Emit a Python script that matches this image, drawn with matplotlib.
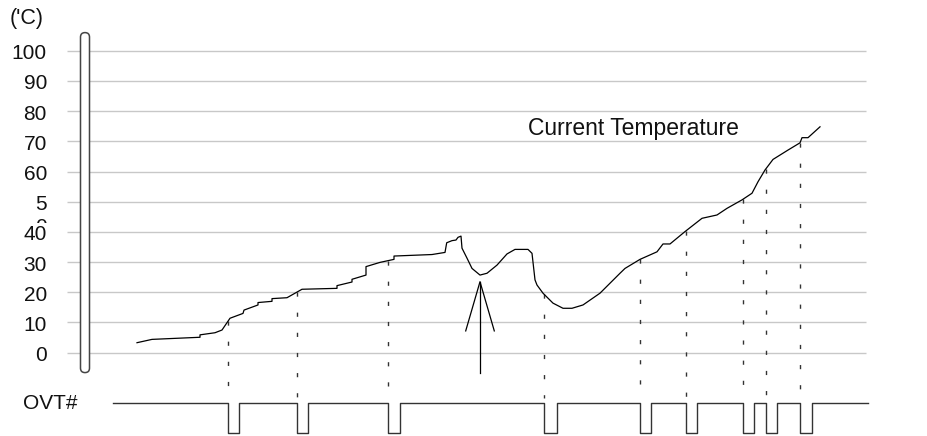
import numpy as np
import matplotlib.pyplot as plt
from matplotlib.patches import FancyBboxPatch, Rectangle

plt.rcParams['font.family'] = ['Liberation Sans', 'DejaVu Sans']

# temperature trace (time in arbitrary units, temperature in 'C)
t = [137, 152, 200, 200, 215, 222, 230, 243, 244, 258, 258, 272, 272, 287, 302,
     337, 337, 352, 352, 366, 366, 380, 394, 394, 432, 445, 446.7, 452, 456, 458,
     461, 462, 467, 472, 480, 487, 497, 507, 515, 528, 532, 535, 537, 543, 553,
     563, 572, 583, 600, 620, 625, 640, 657, 663, 670, 685, 702, 717, 727, 742,
     752, 758, 765, 773, 788, 800, 802, 808, 820]
temp = [3.3, 4.4, 5.1, 5.9, 6.6, 7.5, 11.4, 13.0, 14.1, 15.8, 16.6, 17.0, 17.9, 18.2, 21.0,
        21.3, 22.2, 23.4, 24.3, 25.7, 28.5, 29.9, 30.9, 32.0, 32.5, 33.2, 36.4, 37.1, 37.3, 38.2,
        38.6, 34.6, 31.3, 27.9, 25.7, 26.3, 29.0, 32.7, 34.2, 34.2, 32.9, 24.1, 22.4, 19.7, 16.4,
        14.7, 14.7, 15.8, 19.7, 26.3, 27.9, 30.9, 33.4, 36.0, 36.0, 40.1, 44.5, 45.6, 47.8, 50.6,
        52.8, 56.6, 60.5, 64.0, 67.1, 69.5, 71.2, 71.2, 74.8]

# OVT# low pulses: (falling edge, rising edge)
pulse_start = [228, 297, 388, 544, 640, 686, 743, 766, 800]
pulse_end = [239, 308, 400, 557, 651, 697, 754, 777, 812]
sig_start, sig_end = 113, 868

ticks = [0, 10, 20, 30, 40, 60, 70, 80, 90, 100]

fig = plt.figure(figsize=(9.27, 4.36), dpi=100)
ax = fig.add_axes([0, 0, 1, 1])
ax.set_xlim(0, 927)
ax.set_ylim(-27.6, 116.8)
ax.axis('off')

# grid
ax.hlines(np.arange(0, 101, 10), 67, 866, color='#c8c8c8', lw=1, zorder=1)

# thermometer bar
pill = FancyBboxPatch((80.5, -6.6), 9, 112.6, boxstyle='round,pad=0,rounding_size=4.5',
                      mutation_aspect=1 / 3.02, fc='white', ec='#444444', lw=1.1, zorder=3)
ax.add_patch(pill)

# tick labels
for v in ticks:
    ax.text(47, v - 1.0, str(v), ha='right', va='center', fontsize=15, zorder=5,
            color='#111111')
# the "50" label is broken in the original: only "5" and a sliver of the "0" show
ax.text(47, 49.0, '5', ha='right', va='center', fontsize=15, color='#111111', zorder=4)
ax.text(47, 41.4, '0', ha='right', va='center', fontsize=15, color='#111111', zorder=4)
ax.add_patch(Rectangle((20, 34), 30, 9.0, fc='white', ec='none', zorder=4.5))
ax.text(10, 110.8, "('C)", ha='left', va='center', fontsize=15.5, color='#111111')

# curve
ax.plot(t, temp, color='black', lw=0.9, zorder=6)
ax.text(528, 74.4, 'Current Temperature', ha='left', va='center', fontsize=16.5,
        color='#111111')

# dashed markers from curve down to OVT#
tops = np.interp(pulse_start, t, temp)
for x, top in zip(pulse_start, tops):
    ax.plot([x, x], [top, -15], color='#333333', lw=1, dashes=(3, 11.5), zorder=2)

# arrow pointing at the dip
tip_x, tip_y = 480, 23.5
ax.plot([tip_x, tip_x], [tip_y, -6.7], color='black', lw=0.9)
ax.plot([465.7, tip_x, 494.3], [7.2, tip_y, 7.2], color='black', lw=0.9)

# OVT# signal
ax2 = fig.add_axes([0, 0, 1, 1], sharex=ax)
ax2.set_ylim(-0.1, 14.43)
ax2.axis('off')
sx = [sig_start]
sy = [1]
for a, b in zip(pulse_start, pulse_end):
    sx += [a, a, b, b]
    sy += [1, 0, 0, 1]
sx.append(sig_end)
sy.append(1)
ax2.plot(sx, sy, color='#333333', lw=1)
ax.text(23, -16.8, 'OVT#', ha='left', va='center', fontsize=15, color='#111111')

fig.savefig('out.png', dpi=100)
